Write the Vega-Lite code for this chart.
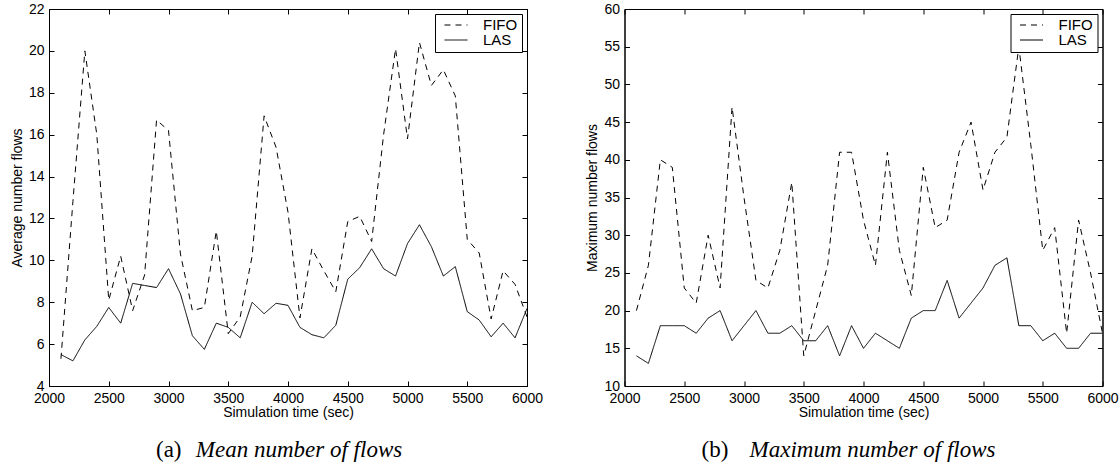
{
  "$schema": "https://vega.github.io/schema/vega-lite/v6.json",
  "background": "white",
  "padding": {"left": 9, "top": 1, "right": 5, "bottom": 0},
  "datasets": {
    "mean": [
      {"t": 2100, "scheme": "FIFO", "flows": 5.3}, {"t": 2200, "scheme": "FIFO", "flows": 12.8},
      {"t": 2300, "scheme": "FIFO", "flows": 20.0}, {"t": 2400, "scheme": "FIFO", "flows": 16.0},
      {"t": 2500, "scheme": "FIFO", "flows": 8.1}, {"t": 2600, "scheme": "FIFO", "flows": 10.2},
      {"t": 2700, "scheme": "FIFO", "flows": 7.6}, {"t": 2800, "scheme": "FIFO", "flows": 9.3},
      {"t": 2900, "scheme": "FIFO", "flows": 16.7}, {"t": 3000, "scheme": "FIFO", "flows": 16.2},
      {"t": 3100, "scheme": "FIFO", "flows": 10.3}, {"t": 3200, "scheme": "FIFO", "flows": 7.6},
      {"t": 3300, "scheme": "FIFO", "flows": 7.75}, {"t": 3400, "scheme": "FIFO", "flows": 11.4},
      {"t": 3500, "scheme": "FIFO", "flows": 6.5}, {"t": 3600, "scheme": "FIFO", "flows": 7.3},
      {"t": 3700, "scheme": "FIFO", "flows": 10.2}, {"t": 3800, "scheme": "FIFO", "flows": 16.9},
      {"t": 3900, "scheme": "FIFO", "flows": 15.4}, {"t": 4000, "scheme": "FIFO", "flows": 12.3},
      {"t": 4100, "scheme": "FIFO", "flows": 7.25}, {"t": 4200, "scheme": "FIFO", "flows": 10.55},
      {"t": 4300, "scheme": "FIFO", "flows": 9.5}, {"t": 4400, "scheme": "FIFO", "flows": 8.5},
      {"t": 4500, "scheme": "FIFO", "flows": 11.85}, {"t": 4600, "scheme": "FIFO", "flows": 12.1},
      {"t": 4700, "scheme": "FIFO", "flows": 10.9}, {"t": 4800, "scheme": "FIFO", "flows": 16.0},
      {"t": 4900, "scheme": "FIFO", "flows": 20.1}, {"t": 5000, "scheme": "FIFO", "flows": 15.8},
      {"t": 5100, "scheme": "FIFO", "flows": 20.4}, {"t": 5200, "scheme": "FIFO", "flows": 18.35},
      {"t": 5300, "scheme": "FIFO", "flows": 19.1}, {"t": 5400, "scheme": "FIFO", "flows": 17.85},
      {"t": 5500, "scheme": "FIFO", "flows": 11.0}, {"t": 5600, "scheme": "FIFO", "flows": 10.35},
      {"t": 5700, "scheme": "FIFO", "flows": 7.2}, {"t": 5800, "scheme": "FIFO", "flows": 9.5},
      {"t": 5900, "scheme": "FIFO", "flows": 8.85}, {"t": 6000, "scheme": "FIFO", "flows": 7.3},
      {"t": 2100, "scheme": "LAS", "flows": 5.5}, {"t": 2200, "scheme": "LAS", "flows": 5.2},
      {"t": 2300, "scheme": "LAS", "flows": 6.2}, {"t": 2400, "scheme": "LAS", "flows": 6.85},
      {"t": 2500, "scheme": "LAS", "flows": 7.75}, {"t": 2600, "scheme": "LAS", "flows": 7.0},
      {"t": 2700, "scheme": "LAS", "flows": 8.9}, {"t": 2800, "scheme": "LAS", "flows": 8.8},
      {"t": 2900, "scheme": "LAS", "flows": 8.7}, {"t": 3000, "scheme": "LAS", "flows": 9.6},
      {"t": 3100, "scheme": "LAS", "flows": 8.4}, {"t": 3200, "scheme": "LAS", "flows": 6.4},
      {"t": 3300, "scheme": "LAS", "flows": 5.75}, {"t": 3400, "scheme": "LAS", "flows": 7.0},
      {"t": 3500, "scheme": "LAS", "flows": 6.8}, {"t": 3600, "scheme": "LAS", "flows": 6.3},
      {"t": 3700, "scheme": "LAS", "flows": 8.0}, {"t": 3800, "scheme": "LAS", "flows": 7.45},
      {"t": 3900, "scheme": "LAS", "flows": 7.95}, {"t": 4000, "scheme": "LAS", "flows": 7.85},
      {"t": 4100, "scheme": "LAS", "flows": 6.8}, {"t": 4200, "scheme": "LAS", "flows": 6.45},
      {"t": 4300, "scheme": "LAS", "flows": 6.3}, {"t": 4400, "scheme": "LAS", "flows": 6.9},
      {"t": 4500, "scheme": "LAS", "flows": 9.1}, {"t": 4600, "scheme": "LAS", "flows": 9.65},
      {"t": 4700, "scheme": "LAS", "flows": 10.55}, {"t": 4800, "scheme": "LAS", "flows": 9.6},
      {"t": 4900, "scheme": "LAS", "flows": 9.25}, {"t": 5000, "scheme": "LAS", "flows": 10.8},
      {"t": 5100, "scheme": "LAS", "flows": 11.7}, {"t": 5200, "scheme": "LAS", "flows": 10.65},
      {"t": 5300, "scheme": "LAS", "flows": 9.25}, {"t": 5400, "scheme": "LAS", "flows": 9.7},
      {"t": 5500, "scheme": "LAS", "flows": 7.55}, {"t": 5600, "scheme": "LAS", "flows": 7.15},
      {"t": 5700, "scheme": "LAS", "flows": 6.35}, {"t": 5800, "scheme": "LAS", "flows": 7.0},
      {"t": 5900, "scheme": "LAS", "flows": 6.3}, {"t": 6000, "scheme": "LAS", "flows": 7.7}
    ],
    "max": [
      {"t": 2100, "scheme": "FIFO", "flows": 20}, {"t": 2200, "scheme": "FIFO", "flows": 26},
      {"t": 2300, "scheme": "FIFO", "flows": 40}, {"t": 2400, "scheme": "FIFO", "flows": 39},
      {"t": 2500, "scheme": "FIFO", "flows": 23}, {"t": 2600, "scheme": "FIFO", "flows": 21},
      {"t": 2700, "scheme": "FIFO", "flows": 30}, {"t": 2800, "scheme": "FIFO", "flows": 23},
      {"t": 2900, "scheme": "FIFO", "flows": 47}, {"t": 3000, "scheme": "FIFO", "flows": 35},
      {"t": 3100, "scheme": "FIFO", "flows": 24}, {"t": 3200, "scheme": "FIFO", "flows": 23},
      {"t": 3300, "scheme": "FIFO", "flows": 28}, {"t": 3400, "scheme": "FIFO", "flows": 37},
      {"t": 3500, "scheme": "FIFO", "flows": 14}, {"t": 3600, "scheme": "FIFO", "flows": 20},
      {"t": 3700, "scheme": "FIFO", "flows": 26}, {"t": 3800, "scheme": "FIFO", "flows": 41},
      {"t": 3900, "scheme": "FIFO", "flows": 41}, {"t": 4000, "scheme": "FIFO", "flows": 32},
      {"t": 4100, "scheme": "FIFO", "flows": 26}, {"t": 4200, "scheme": "FIFO", "flows": 41},
      {"t": 4300, "scheme": "FIFO", "flows": 28}, {"t": 4400, "scheme": "FIFO", "flows": 22},
      {"t": 4500, "scheme": "FIFO", "flows": 39}, {"t": 4600, "scheme": "FIFO", "flows": 31},
      {"t": 4700, "scheme": "FIFO", "flows": 32}, {"t": 4800, "scheme": "FIFO", "flows": 41},
      {"t": 4900, "scheme": "FIFO", "flows": 45}, {"t": 5000, "scheme": "FIFO", "flows": 36},
      {"t": 5100, "scheme": "FIFO", "flows": 41}, {"t": 5200, "scheme": "FIFO", "flows": 43},
      {"t": 5300, "scheme": "FIFO", "flows": 55}, {"t": 5400, "scheme": "FIFO", "flows": 42},
      {"t": 5500, "scheme": "FIFO", "flows": 28}, {"t": 5600, "scheme": "FIFO", "flows": 31},
      {"t": 5700, "scheme": "FIFO", "flows": 17}, {"t": 5800, "scheme": "FIFO", "flows": 32},
      {"t": 5900, "scheme": "FIFO", "flows": 25}, {"t": 6000, "scheme": "FIFO", "flows": 17},
      {"t": 2100, "scheme": "LAS", "flows": 14}, {"t": 2200, "scheme": "LAS", "flows": 13},
      {"t": 2300, "scheme": "LAS", "flows": 18}, {"t": 2400, "scheme": "LAS", "flows": 18},
      {"t": 2500, "scheme": "LAS", "flows": 18}, {"t": 2600, "scheme": "LAS", "flows": 17},
      {"t": 2700, "scheme": "LAS", "flows": 19}, {"t": 2800, "scheme": "LAS", "flows": 20},
      {"t": 2900, "scheme": "LAS", "flows": 16}, {"t": 3000, "scheme": "LAS", "flows": 18},
      {"t": 3100, "scheme": "LAS", "flows": 20}, {"t": 3200, "scheme": "LAS", "flows": 17},
      {"t": 3300, "scheme": "LAS", "flows": 17}, {"t": 3400, "scheme": "LAS", "flows": 18},
      {"t": 3500, "scheme": "LAS", "flows": 16}, {"t": 3600, "scheme": "LAS", "flows": 16},
      {"t": 3700, "scheme": "LAS", "flows": 18}, {"t": 3800, "scheme": "LAS", "flows": 14},
      {"t": 3900, "scheme": "LAS", "flows": 18}, {"t": 4000, "scheme": "LAS", "flows": 15},
      {"t": 4100, "scheme": "LAS", "flows": 17}, {"t": 4200, "scheme": "LAS", "flows": 16},
      {"t": 4300, "scheme": "LAS", "flows": 15}, {"t": 4400, "scheme": "LAS", "flows": 19},
      {"t": 4500, "scheme": "LAS", "flows": 20}, {"t": 4600, "scheme": "LAS", "flows": 20},
      {"t": 4700, "scheme": "LAS", "flows": 24}, {"t": 4800, "scheme": "LAS", "flows": 19},
      {"t": 4900, "scheme": "LAS", "flows": 21}, {"t": 5000, "scheme": "LAS", "flows": 23},
      {"t": 5100, "scheme": "LAS", "flows": 26}, {"t": 5200, "scheme": "LAS", "flows": 27},
      {"t": 5300, "scheme": "LAS", "flows": 18}, {"t": 5400, "scheme": "LAS", "flows": 18},
      {"t": 5500, "scheme": "LAS", "flows": 16}, {"t": 5600, "scheme": "LAS", "flows": 17},
      {"t": 5700, "scheme": "LAS", "flows": 15}, {"t": 5800, "scheme": "LAS", "flows": 15},
      {"t": 5900, "scheme": "LAS", "flows": 17}, {"t": 6000, "scheme": "LAS", "flows": 17}
    ]
  },
  "hconcat": [
    {
      "title": {"text": "(a)", "orient": "bottom", "anchor": "start", "frame": "group", "font": "Liberation Serif", "fontSize": 23, "fontWeight": "normal", "fontStyle": "normal", "color": "black", "dx": 107, "dy": -24, "offset": 0},
      "resolve": {"scale": {"strokeDash": "independent"}},
      "vconcat": [
        {
          "width": 478,
          "height": 377,
          "title": {"text": "Mean number of flows", "orient": "bottom", "anchor": "middle", "frame": "group", "font": "Liberation Serif", "fontSize": 23, "fontWeight": "normal", "fontStyle": "italic", "color": "black", "dx": 11, "offset": 20},
          "data": {"name": "mean"},
          "resolve": {"axis": {"x": "independent", "y": "independent"}},
          "layer": [
            {
              "transform": [{"filter": "datum.scheme === 'FIFO'"}],
              "mark": {"type": "line", "color": "black", "strokeWidth": 1, "clip": true},
              "encoding": {
                "x": {"field": "t", "type": "quantitative", "scale": {"domain": [2000, 6000], "nice": false},
                      "axis": {"orient": "bottom", "values": [2000, 2500, 3000, 3500, 4000, 4500, 5000, 5500, 6000], "format": "d", "title": "Simulation time (sec)"}},
                "y": {"field": "flows", "type": "quantitative", "scale": {"domain": [4, 22], "nice": false, "zero": false},
                      "axis": {"orient": "left", "values": [4, 6, 8, 10, 12, 14, 16, 18, 20, 22], "title": "Average  number flows", "titlePadding": 4}},
                "strokeDash": {"field": "scheme", "type": "nominal", "scale": {"domain": ["FIFO", "LAS"], "range": [[6, 5], [1, 0]]}, "legend": {"orient": "top-right", "offset": 5}}
              }
            },
            {
              "transform": [{"filter": "datum.scheme === 'LAS'"}],
              "mark": {"type": "line", "color": "black", "strokeWidth": 1, "clip": true},
              "encoding": {
                "x": {"field": "t", "type": "quantitative", "scale": {"domain": [2000, 6000], "nice": false},
                      "axis": {"orient": "top", "values": [2000, 2500, 3000, 3500, 4000, 4500, 5000, 5500, 6000], "labels": false, "title": null}},
                "y": {"field": "flows", "type": "quantitative", "scale": {"domain": [4, 22], "nice": false, "zero": false},
                      "axis": {"orient": "right", "values": [4, 6, 8, 10, 12, 14, 16, 18, 20, 22], "labels": false, "title": null}},
                "strokeDash": {"field": "scheme", "type": "nominal"}
              }
            }
          ]
        }
      ]
    },
    {
      "title": {"text": "(b)", "orient": "bottom", "anchor": "start", "frame": "group", "font": "Liberation Serif", "fontSize": 23, "fontWeight": "normal", "fontStyle": "normal", "color": "black", "dx": 77, "dy": -24, "offset": 0},
      "resolve": {"scale": {"strokeDash": "independent"}},
      "vconcat": [
        {
          "width": 478,
          "height": 377,
          "title": {"text": "Maximum number of flows", "orient": "bottom", "anchor": "middle", "frame": "group", "font": "Liberation Serif", "fontSize": 23, "fontWeight": "normal", "fontStyle": "italic", "color": "black", "dx": 9, "offset": 20},
          "data": {"name": "max"},
          "resolve": {"axis": {"x": "independent", "y": "independent"}},
          "layer": [
            {
              "transform": [{"filter": "datum.scheme === 'FIFO'"}],
              "mark": {"type": "line", "color": "black", "strokeWidth": 1, "clip": true},
              "encoding": {
                "x": {"field": "t", "type": "quantitative", "scale": {"domain": [2000, 6000], "nice": false},
                      "axis": {"orient": "bottom", "values": [2000, 2500, 3000, 3500, 4000, 4500, 5000, 5500, 6000], "format": "d", "title": "Simulation time (sec)"}},
                "y": {"field": "flows", "type": "quantitative", "scale": {"domain": [10, 60], "nice": false, "zero": false},
                      "axis": {"orient": "left", "values": [10, 15, 20, 25, 30, 35, 40, 45, 50, 55, 60], "title": "Maximum  number flows", "titlePadding": 4}},
                "strokeDash": {"field": "scheme", "type": "nominal", "scale": {"domain": ["FIFO", "LAS"], "range": [[6, 5], [1, 0]]}, "legend": {"orient": "top-right", "offset": 5}}
              }
            },
            {
              "transform": [{"filter": "datum.scheme === 'LAS'"}],
              "mark": {"type": "line", "color": "black", "strokeWidth": 1, "clip": true},
              "encoding": {
                "x": {"field": "t", "type": "quantitative", "scale": {"domain": [2000, 6000], "nice": false},
                      "axis": {"orient": "top", "values": [2000, 2500, 3000, 3500, 4000, 4500, 5000, 5500, 6000], "labels": false, "title": null}},
                "y": {"field": "flows", "type": "quantitative", "scale": {"domain": [10, 60], "nice": false, "zero": false},
                      "axis": {"orient": "right", "values": [10, 15, 20, 25, 30, 35, 40, 45, 50, 55, 60], "labels": false, "title": null}},
                "strokeDash": {"field": "scheme", "type": "nominal"}
              }
            }
          ]
        }
      ]
    }
  ],
  "resolve": {"scale": {"strokeDash": "independent"}},
  "config": {
    "font": "Liberation Sans",
    "view": {"stroke": "black", "strokeWidth": 1},
    "concat": {"spacing": 40.5},
    "axis": {
      "grid": false,
      "domainColor": "black",
      "domainWidth": 1,
      "tickColor": "black",
      "tickWidth": 1,
      "tickSize": -5,
      "labelPadding": 10,
      "labelFlush": false,
      "labelOverlap": false,
      "labelFont": "Liberation Sans",
      "labelFontSize": 14,
      "labelColor": "black",
      "titleFont": "Liberation Sans",
      "titleFontSize": 14,
      "titleFontWeight": "normal",
      "titleColor": "black",
      "titlePadding": 0
    },
    "legend": {
      "title": null,
      "fillColor": "white",
      "strokeColor": "black",
      "padding": 4,
      "symbolType": "stroke",
      "symbolSize": 529,
      "symbolStrokeWidth": 1,
      "symbolStrokeColor": "black",
      "symbolOffset": 5,
      "clipHeight": 14,
      "labelFont": "Liberation Sans",
      "labelFontSize": 15,
      "labelColor": "black",
      "labelOffset": 15,
      "rowPadding": 0,
      "cornerRadius": 0
    }
  }
}
